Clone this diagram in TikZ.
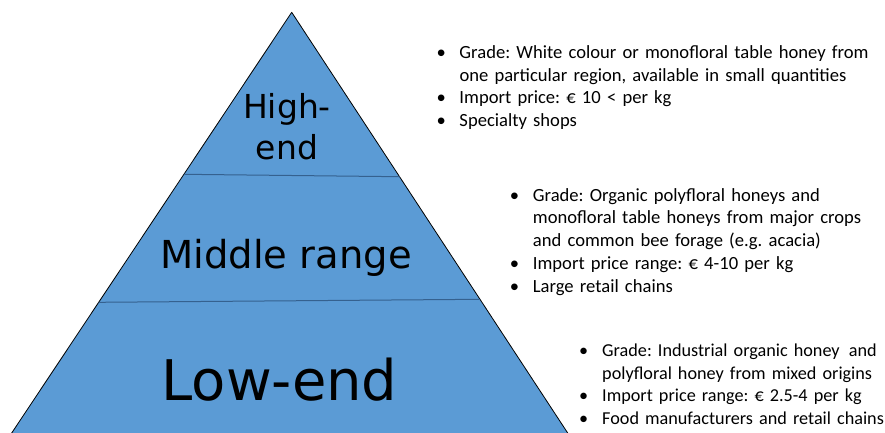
\documentclass[tikz,border=0pt]{standalone}
\usepackage{fontspec}
\setmainfont{Carlito}
\newfontfamily\tierfont{DejaVu Sans}
\usetikzlibrary{calc}

\definecolor{tierblue}{HTML}{5B9BD5}
\definecolor{tierline}{HTML}{35618F}

% bullet line with hanging indent
\newcommand{\bitem}[1]{\par\hangindent=23pt\hangafter=1\noindent\makebox[23pt][l]{\textbullet}#1}
\newcommand{\nl}{\hfil\break}

\begin{document}
\frenchspacing
\begin{tikzpicture}[x=1pt, y=1pt,
    tier/.style={inner sep=0pt, anchor=base, align=center},
    info/.style={anchor=base west, inner sep=0pt, text width=450pt, align=left,
      font=\fontsize{18.6}{22.7}\selectfont\frenchspacing}]
  \useasboundingbox (0,0) rectangle (885,432);
  \clip (0,0) rectangle (885,432);

  % pyramid
  \coordinate (apex) at (291.7,419.7);
  \coordinate (bl) at (5.7,-10);
  \coordinate (br) at (573.6,-10);
  \filldraw[fill=tierblue, draw=black, line width=0.8pt, line join=round] (bl) -- (apex) -- (br) -- cycle;

  \coordinate (d1l) at (183.9,257.7);
  \coordinate (d1r) at (399.5,255.3);
  \coordinate (d2l) at (98.7,129.7);
  \coordinate (d2r) at (480.0,132.7);
  \draw[tierline, line width=1pt] (d1l) -- (d1r);
  \draw[tierline, line width=1pt] (d2l) -- (d2r);

  \node[tier, font=\tierfont\fontsize{33}{41}\selectfont] (high) at (287,272.7) {High-\\end};
  \node[tier, font=\tierfont\fontsize{38.5}{46}\selectfont] (middle) at (286,163.7) {Middle range};
  \node[tier, font=\tierfont\fontsize{56}{66}\selectfont] (low) at (279.5,32) {Low-end};

  % descriptions
  \node[info] (highinfo) at (436.3,396.1) {%
    \bitem{Grade: White colour or monofloral table honey from\nl one particular region, available in small quantities}
    \bitem{Import price: € 10 < per kg}
    \bitem{Specialty shops}};
  \node[info] (middleinfo) at (509.7,253.5) {%
    \bitem{Grade: Organic polyfloral honeys and\nl monofloral table honeys from major crops\nl and common bee forage (e.g. acacia)}
    \bitem{Import price range: € 4-10 per kg}
    \bitem{Large retail chains}};
  \node[info, font=\fontsize{18.2}{22.7}\selectfont\frenchspacing] (lowinfo) at (579,98.4) {%
    \bitem{Grade: Industrial organic honey\,\ and\nl polyfloral honey from mixed origins}
    \bitem{Import price range: € 2.5-4 per kg}
    \bitem{Food manufacturers and retail chains}};
\end{tikzpicture}
\end{document}
